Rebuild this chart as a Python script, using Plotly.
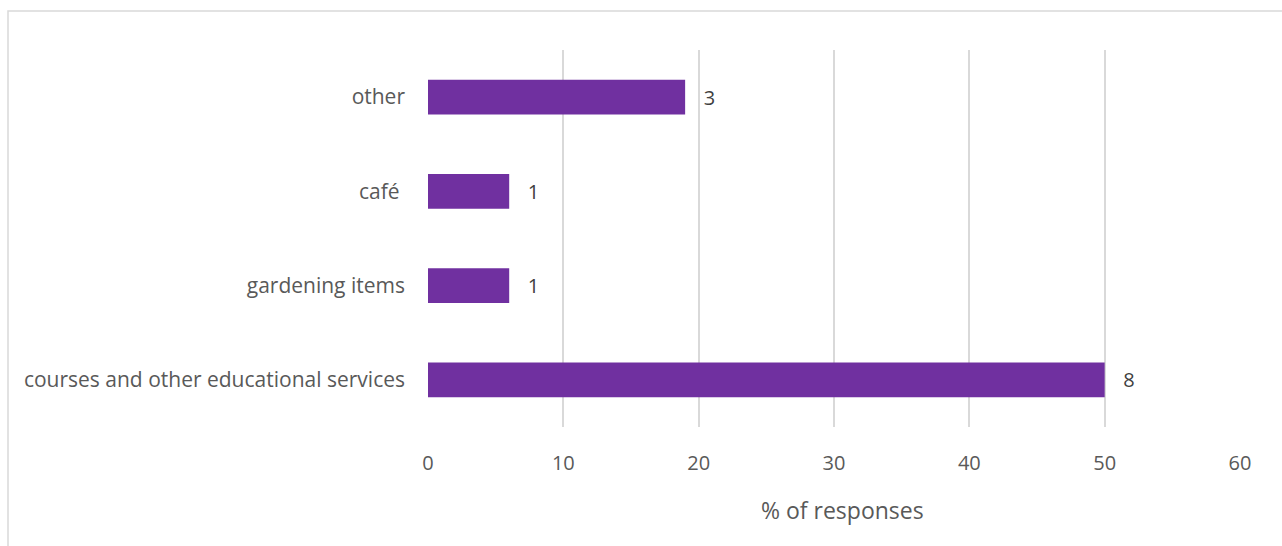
import plotly.graph_objects as go

categories = ["courses and other educational services", "gardening items", "café ", "other"]
percent_values = [50, 6, 6, 19]
count_labels = ["8", "1", "1", "3"]
x_ticks = [0, 10, 20, 30, 40, 50, 60]
x_title = "% of responses"

W, H = 1282, 546
L, R, T, B = 428, 42, 50, 119
pw, ph = W - L - R, H - T - B

fig = go.Figure(go.Bar(
    y=categories, x=percent_values, orientation="h",
    marker=dict(color="#7030A0", line=dict(width=0)),
    width=0.37,
    text=count_labels, textposition="outside",
    texttemplate="   %{text}",
    textfont=dict(size=20, color="#404040", family="Open Sans"),
    cliponaxis=False,
))

def px_x(p):
    return (p - L) / pw

def px_y(p):
    return (H - B - p) / ph

fig.add_shape(type="rect", xref="paper", yref="paper",
              x0=px_x(8), x1=px_x(W + 20), y0=px_y(H + 20), y1=px_y(11),
              line=dict(color="#D9D9D9", width=1.5), fillcolor="rgba(0,0,0,0)", layer="below")

fig.add_annotation(text=x_title, xref="paper", yref="paper",
                   x=px_x(842), y=px_y(510), xanchor="center", yanchor="middle",
                   showarrow=False, font=dict(size=23, color="#595959", family="Open Sans"))

fig.update_layout(
    width=W, height=H,
    margin=dict(l=L, r=R, t=T, b=B, pad=0),
    plot_bgcolor="white", paper_bgcolor="white",
    showlegend=False,
    font=dict(family="Open Sans", color="#595959", size=20),
    xaxis=dict(range=[0, 60], tickvals=x_ticks, showgrid=True, gridcolor="#D9D9D9", gridwidth=1.5,
               zeroline=False, showline=False, ticks="", ticklabelstandoff=22,
               tickfont=dict(size=20, color="#595959")),
    yaxis=dict(showgrid=False, zeroline=False, showline=False, ticks="", ticklabelstandoff=22,
               tickfont=dict(size=21, color="#595959")),
)

fig.write_html("out.html")
